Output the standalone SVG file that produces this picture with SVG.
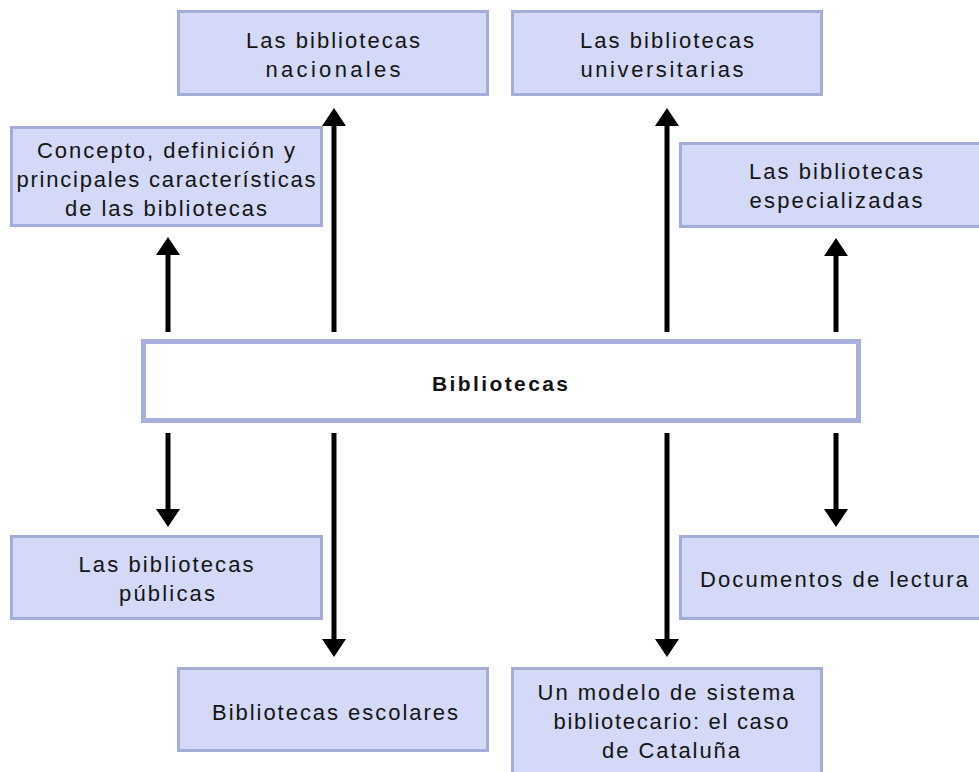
<svg xmlns="http://www.w3.org/2000/svg" width="979" height="772" viewBox="0 0 979 772">
<defs>
<style>
.box{fill:#d3d9f6;stroke:#a4acd8;stroke-width:3}
.main{fill:#ffffff;stroke:#a8afdc;stroke-width:5}
.t{font-family:"Liberation Sans",Arial,sans-serif;font-size:22px;fill:#141414;text-anchor:middle}
.b{font-weight:bold;font-size:21px}
.c{stroke:#000;stroke-width:5;fill:none;marker-end:url(#ah)}
</style>
<marker id="ah" viewBox="0 0 18 24" refX="1" refY="12" markerWidth="18" markerHeight="24" markerUnits="userSpaceOnUse" orient="auto">
<path d="M0,0 L18,12 L0,24 Z" fill="#000"/>
</marker>
</defs>
<rect width="979" height="772" fill="#fff"/>
<g id="connectors">
<path class="c" d="M168,332 V254"/>
<path class="c" d="M334,332 V125"/>
<path class="c" d="M667,332 V125"/>
<path class="c" d="M836,332 V255"/>
<path class="c" d="M168,433 V510"/>
<path class="c" d="M836,433 V510"/>
<path class="c" d="M334,433 V640"/>
<path class="c" d="M667,433 V640"/>
</g>
<g id="nacionales">
<rect class="box" x="178.5" y="11.5" width="309" height="83"/>
<text class="t" x="333" y="48" textLength="174">Las bibliotecas</text>
<text class="t" x="333" y="77" textLength="135">nacionales</text>
</g>
<g id="universitarias">
<rect class="box" x="512.5" y="11.5" width="309" height="83"/>
<text class="t" x="667" y="48" textLength="174">Las bibliotecas</text>
<text class="t" x="662" y="77" textLength="163">universitarias</text>
</g>
<g id="concepto">
<rect class="box" x="11.5" y="127.5" width="310" height="98"/>
<text class="t" x="166" y="158" textLength="258">Concepto, definición y</text>
<text class="t" x="166" y="187" textLength="299">principales características</text>
<text class="t" x="166" y="216" textLength="202">de las bibliotecas</text>
</g>
<g id="especializadas">
<rect class="box" x="680.5" y="143.5" width="312" height="83"/>
<text class="t" x="836" y="179" textLength="174">Las bibliotecas</text>
<text class="t" x="836" y="208" textLength="173">especializadas</text>
</g>
<g id="bibliotecas">
<rect class="main" x="143.5" y="341.5" width="715" height="79"/>
<text class="t b" x="500" y="391" textLength="136">Bibliotecas</text>
</g>
<g id="publicas">
<rect class="box" x="11.5" y="536.5" width="310" height="82"/>
<text class="t" x="166" y="572" textLength="175">Las bibliotecas</text>
<text class="t" x="167" y="601" textLength="96">públicas</text>
</g>
<g id="documentos">
<rect class="box" x="680.5" y="536.5" width="312" height="82"/>
<text class="t" x="834" y="587" textLength="268">Documentos de lectura</text>
</g>
<g id="escolares">
<rect class="box" x="178.5" y="668.5" width="309" height="82"/>
<text class="t" x="335" y="720" textLength="246">Bibliotecas escolares</text>
</g>
<g id="modelo">
<rect class="box" x="512.5" y="668.5" width="309" height="120"/>
<text class="t" x="666" y="700" textLength="257">Un modelo de sistema</text>
<text class="t" x="671" y="729" textLength="235">bibliotecario: el caso</text>
<text class="t" x="671" y="758" textLength="138">de Cataluña</text>
</g>
</svg>
